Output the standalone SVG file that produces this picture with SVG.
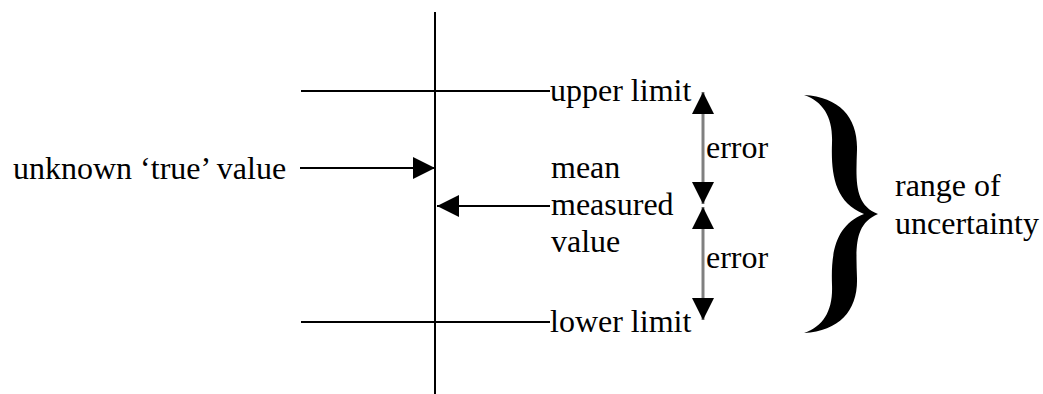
<svg xmlns="http://www.w3.org/2000/svg" width="1043" height="394" viewBox="0 0 1043 394">
<style>
text{font-family:"Liberation Serif","Times New Roman",serif;font-size:32px;fill:#000}
.ln{stroke:#000;stroke-width:2;fill:none}
.gr{stroke:#808080;stroke-width:3;fill:none}
</style>
<defs>
<marker id="ah" markerUnits="userSpaceOnUse" markerWidth="22" markerHeight="22" viewBox="0 0 20 20" refX="20" refY="10" orient="auto">
<path d="M0,0 L20,10 L0,20 Z" fill="#000"/>
</marker>
</defs>
<g id="axis">
<line class="ln" x1="435" y1="12" x2="435" y2="394"/>
</g>
<g id="connectors">
<line class="ln" x1="301" y1="91" x2="550" y2="91"/>
<line class="ln" x1="301" y1="322" x2="550" y2="322"/>
<line class="ln" x1="300" y1="168" x2="435" y2="168" marker-end="url(#ah)"/>
<line class="ln" x1="550" y1="206" x2="437" y2="206" marker-end="url(#ah)"/>
<line class="gr" x1="703" y1="150" x2="703" y2="92" marker-end="url(#ah)"/>
<line class="gr" x1="703" y1="150" x2="703" y2="204" marker-end="url(#ah)"/>
<line class="gr" x1="703" y1="260" x2="703" y2="207" marker-end="url(#ah)"/>
<line class="gr" x1="703" y1="260" x2="703" y2="320" marker-end="url(#ah)"/>
</g>
<g id="true-value">
<text x="13" y="179">unknown ‘true’ value</text>
</g>
<g id="upper-limit">
<text x="550" y="101">upper limit</text>
</g>
<g id="mean">
<text x="551" y="178">mean</text>
<text x="551" y="215">measured</text>
<text x="551" y="252">value</text>
</g>
<g id="lower-limit">
<text x="550" y="332">lower limit</text>
</g>
<g id="error-upper">
<text x="706" y="158">error</text>
</g>
<g id="error-lower">
<text x="706" y="268">error</text>
</g>
<g id="brace">
<path d="M804,95 C840,97 858,118 857,150 C856,180 854,205 878,214 C854,224 856,248 857,278 C858,310 840,331 804,333 C824,326 833,310 832,285 C831,255 834,226 864,214 C834,202 831,173 832,143 C833,118 824,102 804,95 Z" fill="#000"/>
</g>
<g id="range">
<text x="895" y="196">range of</text>
<text x="895" y="234">uncertainty</text>
</g>
</svg>
